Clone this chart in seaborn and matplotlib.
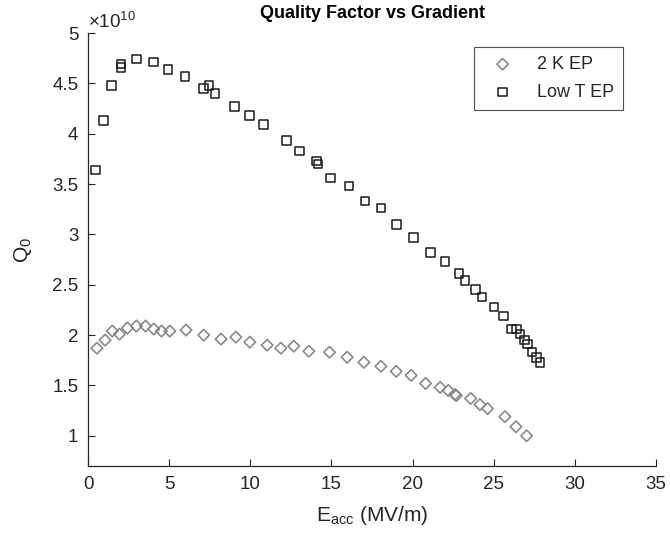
import matplotlib
matplotlib.use("Agg")
import matplotlib.pyplot as plt
import seaborn as sns
import pandas as pd
from matplotlib.ticker import FuncFormatter

# ---- data (Q0 in units of 1e10) ----
k2_eacc = [0.55, 1.05, 1.50, 1.94, 2.43, 2.98, 3.54, 4.05, 4.53, 5.04, 6.04, 7.13,
           8.20, 9.11, 9.97, 11.04, 11.88, 12.68, 13.61, 14.88, 15.97, 17.00, 18.05,
           18.99, 19.91, 20.80, 21.70, 22.20, 22.60, 22.70, 23.58, 24.15, 24.62,
           25.69, 26.37, 27.03]
k2_q0 = [1.87, 1.95, 2.04, 2.01, 2.07, 2.09, 2.09, 2.06, 2.04, 2.04, 2.05, 2.00,
         1.96, 1.98, 1.93, 1.90, 1.87, 1.89, 1.84, 1.83, 1.78, 1.73, 1.69,
         1.64, 1.60, 1.52, 1.48, 1.45, 1.41, 1.40, 1.37, 1.31, 1.27,
         1.19, 1.09, 1.00]

lowt_eacc = [0.47, 0.95, 1.46, 2.02, 2.02, 3.00, 4.05, 4.93, 5.98, 7.11, 7.46, 7.83,
             9.04, 9.95, 10.81, 12.23, 13.03, 14.08, 14.16, 14.96, 16.09, 17.08,
             18.06, 19.01, 20.04, 21.11, 21.99, 22.85, 23.22, 23.88, 24.27, 25.01,
             25.59, 26.10, 26.41, 26.62, 26.88, 27.09, 27.36, 27.64, 27.85]
lowt_q0 = [3.64, 4.13, 4.48, 4.69, 4.66, 4.74, 4.71, 4.64, 4.57, 4.45, 4.48, 4.40,
           4.27, 4.18, 4.09, 3.93, 3.83, 3.73, 3.70, 3.56, 3.48, 3.33,
           3.26, 3.10, 2.97, 2.82, 2.73, 2.61, 2.54, 2.45, 2.38, 2.28,
           2.19, 2.06, 2.06, 2.01, 1.95, 1.91, 1.83, 1.78, 1.73]

series_labels = ["2 K EP", "Low T EP"]
x_ticks = [0, 5, 10, 15, 20, 25, 30, 35]
y_ticks = [1, 1.5, 2, 2.5, 3, 3.5, 4, 4.5, 5]

df_k2 = pd.DataFrame({"Eacc": k2_eacc, "Q0": k2_q0})
df_lt = pd.DataFrame({"Eacc": lowt_eacc, "Q0": lowt_q0})

sns.set_style("white")
plt.rcParams["font.family"] = ["Liberation Sans", "DejaVu Sans"]
plt.rcParams["mathtext.fontset"] = "custom"
plt.rcParams["mathtext.rm"] = "Liberation Sans"
plt.rcParams["mathtext.it"] = "Liberation Sans"

txt = "#262626"
fig = plt.figure(figsize=(6.7, 5.4), dpi=100)
ax = fig.add_axes([88 / 670, 1 - 466 / 540, 568 / 670, 433 / 540])

sns.scatterplot(data=df_k2, x="Eacc", y="Q0", ax=ax, marker="D", s=34,
                facecolor="none", edgecolor="#8a8a8a", linewidth=1.2,
                label=series_labels[0])
sns.scatterplot(data=df_lt, x="Eacc", y="Q0", ax=ax, marker="s", s=38,
                facecolor="none", edgecolor="#1a1a1a", linewidth=1.1,
                label=series_labels[1])

ax.set_xlim(0, 35)
ax.set_ylim(0.7, 5)
ax.set_xticks(x_ticks)
ax.set_yticks(y_ticks)
ax.yaxis.set_major_formatter(FuncFormatter(lambda v, p: f"{v:g}"))
ax.tick_params(direction="in", length=5, width=0.8, colors=txt,
               labelsize=13.5, labelcolor=txt, pad=7,
               bottom=True, left=True, top=False, right=False)

for s in ["top", "right"]:
    ax.spines[s].set_visible(False)
for s in ["left", "bottom"]:
    ax.spines[s].set_color(txt)
    ax.spines[s].set_linewidth(0.9)

ax.set_xlabel(r"E$_{\mathrm{acc}}$ (MV/m)", fontsize=15, color=txt, labelpad=8)
ax.set_ylabel(r"Q$_{0}$", fontsize=15, color=txt, labelpad=13)
ax.set_title("Quality Factor vs Gradient", fontsize=13, fontweight="bold",
             color="black", pad=11)
ax.text(0.0, 1.003, r"$\times 10^{10}$", transform=ax.transAxes, ha="left",
        va="bottom", fontsize=13.5, color=txt)

leg = ax.legend(loc="upper right", bbox_to_anchor=(0.942, 0.968), fontsize=13,
                frameon=True, fancybox=False, edgecolor="#262626",
                handletextpad=0.8, borderpad=0.5, labelspacing=0.6,
                handlelength=2.2, borderaxespad=0)
leg.get_frame().set_linewidth(0.8)
for t in leg.get_texts():
    t.set_color(txt)

fig.savefig("out.png", dpi=100)
